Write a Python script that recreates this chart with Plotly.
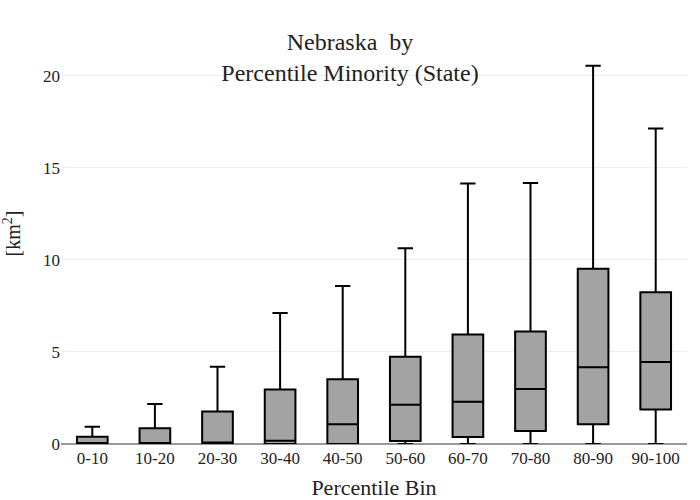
import plotly.graph_objects as go

bins = ["0-10", "10-20", "20-30", "30-40", "40-50", "50-60", "60-70", "70-80", "80-90", "90-100"]
lower = [0, 0, 0, 0, 0, 0, 0, 0, 0, 0]
q1 = [0, 0, 0, 0, 0, 0.16, 0.38, 0.71, 1.07, 1.87]
median = [0, 0, 0.08, 0.18, 1.07, 2.13, 2.3, 2.99, 4.17, 4.45]
q3 = [0.4, 0.86, 1.77, 2.96, 3.52, 4.74, 5.95, 6.11, 9.51, 8.24]
upper = [0.93, 2.17, 4.2, 7.11, 8.58, 10.63, 14.14, 14.17, 20.54, 17.13]

fig = go.Figure()
fig.add_trace(go.Box(
    x=bins, lowerfence=lower, q1=q1, median=median, q3=q3, upperfence=upper,
    fillcolor="rgb(163,163,163)",
    line=dict(color="black", width=2),
    whiskerwidth=0.5,
    boxpoints=False,
    showlegend=False,
))

serif = "Liberation Serif, Times New Roman, serif"
fig.update_layout(
    width=700, height=500,
    margin=dict(l=61, r=13, t=23, b=56, autoexpand=False),
    paper_bgcolor="white", plot_bgcolor="white",
    font=dict(family=serif, color="#222", size=17),
    title=dict(text="Nebraska  by<br>Percentile Minority (State)", x=0.5, xanchor="center",
               y=0.9, yanchor="middle", font=dict(size=24, family=serif, color="#222")),
    xaxis=dict(title=dict(text="Percentile Bin", font=dict(size=22, family=serif, color="#222")),
               tickfont=dict(size=17, family=serif, color="#222"), automargin=False,
               showgrid=False, showline=False, ticks="", ticklabelstandoff=2),
    yaxis=dict(title=dict(text="[km<sup>2</sup>]", font=dict(size=20, family=serif, color="#222"), standoff=21),
               tickfont=dict(size=17, family=serif, color="#222"), automargin=False,
               range=[0, 22.86], gridcolor="#eeeeee", zeroline=True, zerolinecolor="#999999",
               zerolinewidth=2, dtick=5),
)
fig.write_html("out.html")
